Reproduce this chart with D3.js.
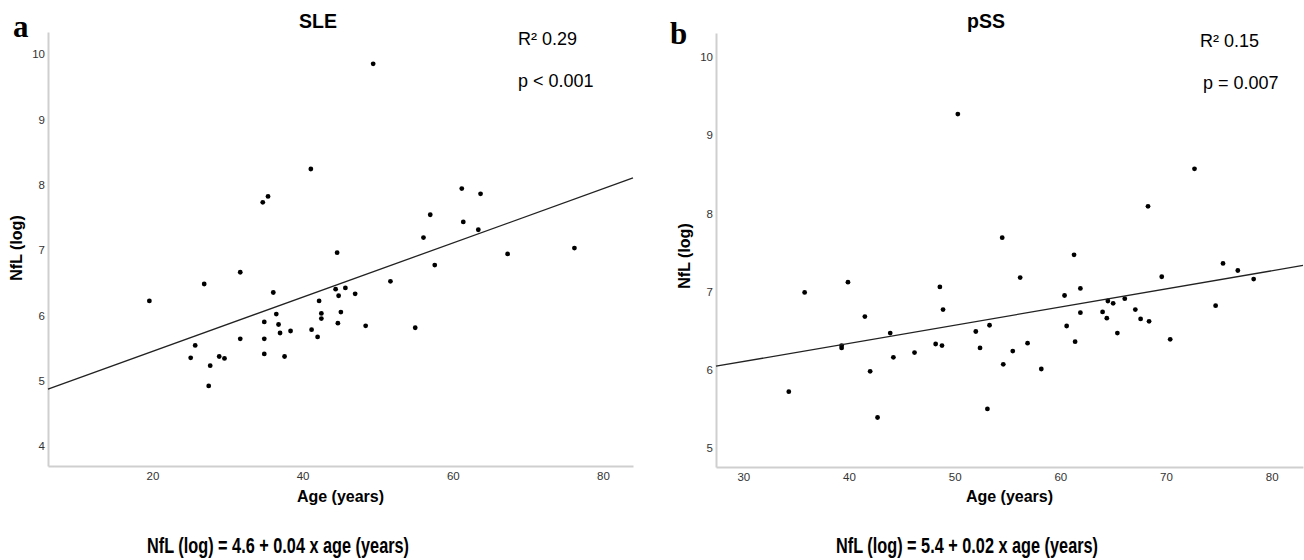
<!DOCTYPE html>
<html>
<head>
<meta charset="utf-8">
<script src="https://cdn.jsdelivr.net/npm/d3@7"></script>
<style>
  body { margin: 0; background: #fff; }
</style>
</head>
<body>
<svg id="chart" width="1304" height="560" font-family="'Liberation Sans', Arial, sans-serif"></svg>
<script>
// SLE panel data (age, NfL log)
var sleAge = [19.6, 25.1, 25.7, 26.9, 27.5, 27.7, 28.9, 29.6, 31.7, 31.7, 34.7, 35.4, 34.9, 34.9, 34.9, 36.1,
              36.5, 36.8, 37.0, 37.6, 38.4, 41.1, 41.2, 42.0, 42.2, 42.5, 42.5, 44.4, 44.6, 44.7, 44.8, 45.1,
              45.7, 47.0, 48.4, 49.4, 51.7, 55.0, 56.1, 57.0, 57.6, 61.2, 61.4, 63.4, 63.7, 67.3, 76.2];
var sleNfl = [6.22, 5.35, 5.54, 6.48, 4.92, 5.23, 5.37, 5.34, 6.66, 5.64, 7.73, 7.82, 5.90, 5.64, 5.41, 6.35,
              6.02, 5.86, 5.73, 5.37, 5.76, 8.24, 5.78, 5.67, 6.22, 6.03, 5.95, 6.40, 6.96, 5.88, 6.30, 6.05,
              6.42, 6.33, 5.84, 9.85, 6.52, 5.81, 7.19, 7.54, 6.77, 7.94, 7.43, 7.31, 7.86, 6.94, 7.03];
var sleFit = [4.617, 0.0415];

// pSS panel data
var pssAge = [34.3, 35.8, 39.3, 39.3, 39.9, 41.5, 42.0, 42.7, 43.9, 44.2, 46.2, 48.2, 48.6, 48.8, 48.9, 50.3,
              52.0, 52.4, 53.1, 53.3, 54.5, 54.6, 55.5, 56.2, 56.9, 58.2, 60.4, 60.6, 61.3, 61.4, 61.9, 61.9,
              64.0, 64.4, 64.5, 65.0, 65.4, 66.1, 67.1, 67.6, 68.3, 68.4, 69.6, 70.4, 72.7, 74.7, 75.4, 76.8, 78.3];
var pssNfl = [5.72, 6.99, 6.31, 6.28, 7.12, 6.68, 5.98, 5.39, 6.47, 6.16, 6.22, 6.33, 7.06, 6.31, 6.77, 9.27,
              6.49, 6.28, 5.50, 6.57, 7.69, 6.07, 6.24, 7.18, 6.34, 6.01, 6.95, 6.56, 7.47, 6.36, 7.04, 6.73,
              6.74, 6.66, 6.88, 6.85, 6.47, 6.91, 6.77, 6.65, 8.09, 6.62, 7.19, 6.39, 8.57, 6.82, 7.36, 7.27, 7.16];
var pssFit = [5.41, 0.0232];

var sleXTicks = [20, 40, 60, 80];
var sleYTicks = [4, 5, 6, 7, 8, 9, 10];
var pssXTicks = [30, 40, 50, 60, 70, 80];
var pssYTicks = [5, 6, 7, 8, 9, 10];

var svg = d3.select("#chart");

function drawPanel(p) {
    var x = d3.scaleLinear().domain(p.xDomain).range([p.left, p.right]);
    var y = d3.scaleLinear().domain(p.yDomain).range([p.bottom, p.top]);
    var g = svg.append("g").attr("class", "panel");

    // axes: light grey lines, no tick marks
    var xAxis = g.append("g").attr("transform", "translate(0," + p.bottom + ")")
        .call(d3.axisBottom(x).tickValues(p.xTicks).tickFormat(d3.format("d")).tickSize(0).tickPadding(6));
    var yAxis = g.append("g").attr("transform", "translate(" + p.left + ",0)")
        .call(d3.axisLeft(y).tickValues(p.yTicks).tickFormat(d3.format("d")).tickSize(0).tickPadding(3));
    [xAxis, yAxis].forEach(function(a) {
        a.attr("font-family", null);
        a.select(".domain").attr("stroke", "#cfcfcf").attr("stroke-width", 2);
        a.selectAll("text").attr("font-size", 11.5).attr("fill", "#333");
    });

    // points
    g.append("g").selectAll("circle")
        .data(p.ages)
        .enter()
        .append("circle")
        .attr("cx", function(d) { return x(d); })
        .attr("cy", function(d, i) { return y(p.nfl[i]); })
        .attr("r", 2.4)
        .attr("fill", "#000");

    // regression line across the full x range
    var x0 = p.xDomain[0], x1 = p.xDomain[1];
    g.append("line")
        .attr("x1", x(x0)).attr("y1", y(p.fit[0] + p.fit[1] * x0))
        .attr("x2", x(x1)).attr("y2", y(p.fit[0] + p.fit[1] * x1))
        .attr("stroke", "#222").attr("stroke-width", 1.3);

    // titles and labels
    g.append("text").attr("x", p.titleX).attr("y", 28).attr("text-anchor", "middle")
        .attr("font-weight", "bold").attr("font-size", 19.5).text(p.title);
    g.append("text").attr("x", p.panelX).attr("y", p.panelY)
        .attr("font-family", "'Liberation Serif', 'Times New Roman', serif")
        .attr("font-weight", "bold").attr("font-size", 31).text(p.panel);
    g.append("text").attr("x", p.statX).attr("y", p.rY).attr("font-size", 18).text(p.r2);
    g.append("text").attr("x", p.statX + p.pDx).attr("y", p.rY + 42).attr("font-size", 18).text(p.pval);

    g.append("text").attr("x", (p.left + p.right) / 2).attr("y", 502).attr("text-anchor", "middle")
        .attr("font-weight", "bold").attr("font-size", 16).text("Age (years)");
    g.append("text")
        .attr("transform", "translate(" + p.yLabX + "," + p.yLabY + ") rotate(-90)")
        .attr("text-anchor", "middle").attr("font-weight", "bold").attr("font-size", 16).text("NfL (log)");

    g.append("text").attr("x", p.eqX).attr("y", 553).attr("text-anchor", "middle")
        .attr("font-weight", "bold").attr("font-size", 22)
        .attr("textLength", 262).attr("lengthAdjust", "spacingAndGlyphs").text(p.eq);
}

drawPanel({
    left: 48, right: 633, top: 32, bottom: 466,
    xDomain: [6.1, 84], yDomain: [3.694, 10.337],
    xTicks: sleXTicks, yTicks: sleYTicks,
    ages: sleAge, nfl: sleNfl, fit: sleFit,
    title: "SLE", titleX: 318, panel: "a", panelX: 13, panelY: 37,
    r2: "R\u00b2 0.29", pval: "p < 0.001", statX: 518, rY: 45, pDx: 0,
    yLabX: 22, yLabY: 248, eqX: 278,
    eq: "NfL (log) = 4.6 + 0.04 x age (years)"
});

drawPanel({
    left: 716, right: 1303, top: 33, bottom: 467,
    xDomain: [27.41, 82.97], yDomain: [4.757, 10.307],
    xTicks: pssXTicks, yTicks: pssYTicks,
    ages: pssAge, nfl: pssNfl, fit: pssFit,
    title: "pSS", titleX: 986, panel: "b", panelX: 670, panelY: 44,
    r2: "R\u00b2 0.15", pval: "p = 0.007", statX: 1200, rY: 47, pDx: 3,
    yLabX: 690, yLabY: 256, eqX: 967,
    eq: "NfL (log) = 5.4 + 0.02 x age (years)"
});
</script>
</body>
</html>
